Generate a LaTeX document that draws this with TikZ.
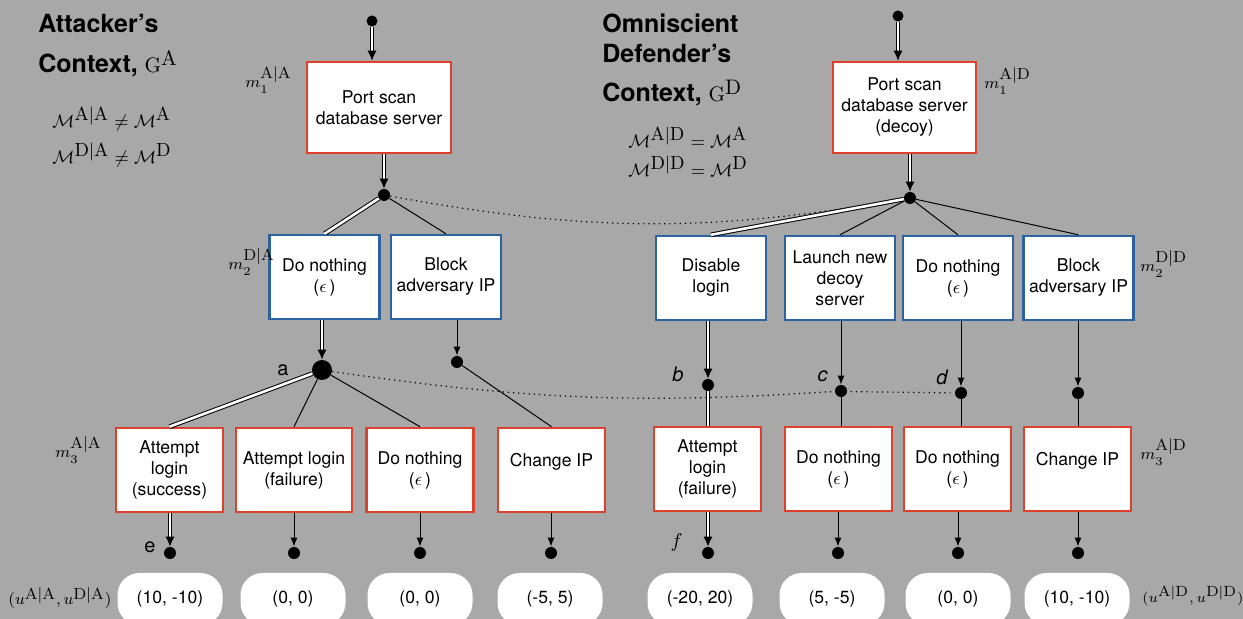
\documentclass[tikz,border=0pt]{standalone}
\usepackage{fontspec}
\setsansfont{TeX Gyre Heros}
\usepackage{amsmath}
\usetikzlibrary{arrows.meta}
\definecolor{attred}{RGB}{222,64,46}
\definecolor{defblue}{RGB}{44,98,160}
\definecolor{bggray}{RGB}{168,168,168}
\tikzset{>={Latex[length=4.5pt,width=3.5pt]}}

\begin{document}
\begin{tikzpicture}[x=0.5pt,y=-0.5pt,
  every node/.style={font=\sffamily\fontsize{8.8}{10.5}\selectfont},
  attbox/.style={draw=attred, line width=1.3pt, fill=white, align=center,
    minimum width=53.5pt, minimum height=42pt, inner sep=1pt},
  defbox/.style={draw=defblue, line width=1.2pt, fill=white, align=center,
    minimum width=55pt, minimum height=42pt, inner sep=1pt},
  payoff/.style={fill=white, rounded corners=11pt, minimum width=52.5pt, minimum height=26pt},
  dot/.style={circle, fill=black, inner sep=0pt, minimum size=6pt},
  bigdot/.style={dot, minimum size=10pt},
  move/.style={line width=0.5pt},
  arr/.style={move, ->},
  dmove/.style={double, double distance=1.3pt, line width=0.5pt},
  darr/.style={dmove, -{Latex[length=5pt,width=4.5pt]}},
  info/.style={dotted, line width=0.6pt},
  ctx/.style={anchor=base west, inner sep=0pt, font=\sffamily\bfseries\fontsize{12.5}{14}\selectfont},
  eq/.style={anchor=base west, inner sep=0pt, font=\fontsize{9.5}{11}\selectfont},
  mlbl/.style={anchor=base west, inner sep=0pt, font=\fontsize{8}{10}\selectfont},
  lbl/.style={anchor=base east, inner sep=0pt, font=\sffamily\fontsize{10}{11}\selectfont},
]
  \useasboundingbox (0,0) rectangle (1243,619);
  \clip (0,0) rectangle (1243,619);
  \fill[bggray] (0,0) rectangle (1243,619);

  % contexts
  \node[ctx] (aTitle) at (38,33) {Attacker’s};
  \node[ctx] (aCtx) at (38,73) {Context, {\fontsize{10.5}{12}\selectfont$\mathrm{G}^{\textstyle\mathrm{A}}$}};
  \node[eq] (aEqA) at (52,128) {$\mathcal{M}^{\textstyle\mathrm{A|A}}\neq\mathcal{M}^{\textstyle\mathrm{A}}$};
  \node[eq] (aEqD) at (52,164) {$\mathcal{M}^{\textstyle\mathrm{D|A}}\neq\mathcal{M}^{\textstyle\mathrm{D}}$};
  \node[ctx] (dTitle) at (602,33) {Omniscient};
  \node[ctx] (dTitleB) at (602,63) {Defender’s};
  \node[ctx] (dCtx) at (602,102) {Context, {\fontsize{10.5}{12}\selectfont$\mathrm{G}^{\textstyle\mathrm{D}}$}};
  \node[eq] (dEqA) at (628,148) {$\mathcal{M}^{\textstyle\mathrm{A|D}}=\mathcal{M}^{\textstyle\mathrm{A}}$};
  \node[eq] (dEqD) at (628,177) {$\mathcal{M}^{\textstyle\mathrm{D|D}}=\mathcal{M}^{\textstyle\mathrm{D}}$};

  % attacker's tree
  \node[dot, minimum size=5.5pt] (aIn) at (372,21) {};
  \node[attbox, minimum width=72pt, minimum height=45.5pt] (aScan) at (379,107.5) {Port scan\\database server};
  \node[dot] (aRoot) at (384,195) {};
  \node[defbox] (aNone) at (324.5,277) {Do nothing\\($\epsilon$\,)};
  \node[defbox] (aBlock) at (446,277) {Block\\adversary IP};
  \node[bigdot] (a) at (322,370) {};
  \node[dot] (aAfter) at (457,362) {};
  \node[attbox] (aWin) at (169.5,470) {Attempt\\login\\(success)};
  \node[attbox, minimum width=58pt] (aLose) at (294,470) {Attempt login\\(failure)};
  \node[attbox] (aIdle) at (420,470) {Do nothing\\($\epsilon$\,)};
  \node[attbox] (aHop) at (551.5,470) {Change IP\\\mbox{}};

  % defender's tree
  \node[dot, minimum size=5.5pt] (dIn) at (898,16) {};
  \node[attbox, minimum width=71.5pt, minimum height=45.5pt] (dScan) at (904.5,107.5) {Port scan\\database server\\(decoy)};
  \node[dot] (dRoot) at (910,198) {};
  \node[defbox] (dLock) at (711,278) {Disable\\login};
  \node[defbox] (dDecoy) at (840,278) {Launch new\\decoy\\server};
  \node[defbox] (dNone) at (958,278) {Do nothing\\($\epsilon$\,)};
  \node[defbox] (dBlock) at (1078.5,278) {Block\\adversary IP};
  \node[dot] (b) at (708,385) {};
  \node[dot] (c) at (841,391) {};
  \node[dot] (d) at (961,393) {};
  \node[dot] (dAfter) at (1078,393) {};
  \node[attbox] (dLose) at (707.5,469) {Attempt\\login\\(failure)};
  \node[attbox] (dIdle) at (838.5,469) {Do nothing\\($\epsilon$\,)};
  \node[attbox] (dIdleB) at (957.5,469) {Do nothing\\($\epsilon$\,)};
  \node[attbox] (dHop) at (1077.5,469) {Change IP\\\mbox{}};

  % leaves and payoffs
  \foreach \n/\x in {e/170, aEndB/294, aEndC/420, aEndD/551, f/708, dEndB/838, dEndC/958, dEndD/1078}
    \node[dot] (\n) at (\x,553) {};
  \foreach \n/\x/\v in {aPayA/170/{(10, -10)}, aPayB/293/{(0, 0)}, aPayC/420/{(0, 0)}, aPayD/550/{(-5, 5)},
                        dPayA/700/{(-20, 20)}, dPayB/832/{(5, -5)}, dPayC/958/{(0, 0)}, dPayD/1077/{(10, -10)}}
    \node[payoff] (\n) at (\x,599) {\v};

  % node labels
  \node[lbl] at (289,376) {a};
  \node[lbl, font=\sffamily\itshape\fontsize{10}{11}\selectfont] at (684,382) {b};
  \node[lbl, font=\sffamily\itshape\fontsize{10}{11}\selectfont] at (828,382) {c};
  \node[lbl, font=\sffamily\itshape\fontsize{10}{11}\selectfont] at (948,385) {d};
  \node[lbl] at (156,553) {e};
  \node[lbl, font=\fontsize{10}{11}\selectfont] at (683,548) {$f$};
  \node[mlbl] (aMA) at (245,88) {$m_1^{\textstyle\mathrm{A|A}}$};
  \node[mlbl] (aMB) at (228,270) {$m_2^{\textstyle\mathrm{D|A}}$};
  \node[mlbl] (aMC) at (55,458) {$m_3^{\textstyle\mathrm{A|A}}$};
  \node[mlbl] (aU) at (8,605) {$(u^{\textstyle\mathrm{A|A}}, u^{\textstyle\mathrm{D|A}})$};
  \node[mlbl] (dMA) at (984,89) {$m_1^{\textstyle\mathrm{A|D}}$};
  \node[mlbl] (dMB) at (1140,272) {$m_2^{\textstyle\mathrm{D|D}}$};
  \node[mlbl] (dMC) at (1140,460) {$m_3^{\textstyle\mathrm{A|D}}$};
  \node[mlbl, font=\fontsize{7.4}{9}\selectfont] (dU) at (1142,603) {$(u^{\textstyle\mathrm{A|D}}, u^{\textstyle\mathrm{D|D}})$};

  % information sets
  \draw[info] (aRoot) to[bend right=10] (dRoot);
  \draw[info] (a) to[bend right=6] (c) -- (d);

  % attacker's moves
  \draw[darr] (aIn) -- (aIn |- aScan.north);
  \draw[darr] (aRoot |- aScan.south) -- (aRoot);
  \draw[dmove] (aRoot) -- (aNone.north);
  \draw[move] (aRoot) -- (aBlock.north);
  \draw[darr] (a |- aNone.south) -- (a);
  \draw[arr] (aAfter |- aBlock.south) -- (aAfter);
  \draw[dmove] (a) -- (aWin.north);
  \draw[move] (a) -- (aLose.north);
  \draw[move] (a) -- (aIdle.north);
  \draw[move] (aAfter) -- (aHop.north);
  \draw[darr] (e |- aWin.south) -- (e);
  \draw[arr] (aEndB |- aLose.south) -- (aEndB);
  \draw[arr] (aEndC |- aIdle.south) -- (aEndC);
  \draw[arr] (aEndD |- aHop.south) -- (aEndD);

  % defender's moves
  \draw[darr] (dIn) -- (dIn |- dScan.north);
  \draw[darr] (dRoot |- dScan.south) -- (dRoot);
  \draw[dmove] (dRoot) -- (dLock.north);
  \draw[move] (dRoot) -- (dDecoy.north);
  \draw[move] (dRoot) -- (dNone.north);
  \draw[move] (dRoot) -- (dBlock.north);
  \draw[darr] (b |- dLock.south) -- (b);
  \draw[arr] (c |- dDecoy.south) -- (c);
  \draw[arr] (d |- dNone.south) -- (d);
  \draw[arr] (dAfter |- dBlock.south) -- (dAfter);
  \draw[dmove] (b) -- (b |- dLose.north);
  \draw[move] (c) -- (c |- dIdle.north);
  \draw[move] (d) -- (d |- dIdleB.north);
  \draw[move] (dAfter) -- (dAfter |- dHop.north);
  \draw[darr] (f |- dLose.south) -- (f);
  \draw[arr] (dEndB |- dIdle.south) -- (dEndB);
  \draw[arr] (dEndC |- dIdleB.south) -- (dEndC);
  \draw[arr] (dEndD |- dHop.south) -- (dEndD);
\end{tikzpicture}
\end{document}
